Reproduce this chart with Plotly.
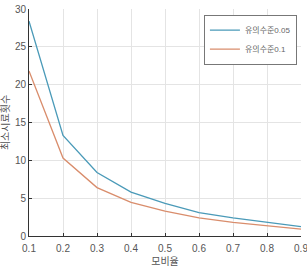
import plotly.graph_objects as go

p = [0.1, 0.2, 0.3, 0.4, 0.5, 0.6, 0.7, 0.8, 0.9]
s005 = [28.4, 13.3, 8.4, 5.8, 4.3, 3.1, 2.4, 1.8, 1.23]
s01 = [21.8, 10.3, 6.4, 4.45, 3.3, 2.4, 1.8, 1.36, 0.92]
names = ["유의수준0.05", "유의수준0.1"]
colors = ["#4a9ab8", "#d98d6c"]

fig = go.Figure()
for ys, nm, c in zip([s005, s01], names, colors):
    fig.add_trace(go.Scatter(x=p, y=ys, mode="lines", name=nm,
                             line=dict(color=c, width=1.3)))

font = "Liberation Sans, Noto Sans CJK KR"
fig.update_layout(
    width=307, height=269,
    margin=dict(l=29, r=6, t=9, b=33),
    paper_bgcolor="white", plot_bgcolor="white",
    font=dict(family=font, size=10, color="#555"),
    showlegend=True,
    legend=dict(x=0.985, y=0.975, xanchor="right", yanchor="top",
                bgcolor="white", bordercolor="#777", borderwidth=1,
                font=dict(size=8, color="#666"), itemwidth=30,
                tracegroupgap=0),
    xaxis=dict(range=[0.1, 0.9], tickvals=p,
               ticktext=["0.1", "0.2", "0.3", "0.4", "0.5", "0.6", "0.7", "0.8", "0.9"],
               showgrid=True, gridcolor="#e4e4e4", gridwidth=1,
               showline=True, linecolor="#333", linewidth=1,
               ticks="inside", ticklen=3, tickcolor="#333",
               zeroline=False, ticklabelstandoff=3, automargin=False,
               ticklabeloverflow="allow",
               title=dict(text="모비율", font=dict(size=10, color="#555"), standoff=4)),
    yaxis=dict(range=[0, 30], tickvals=[0, 5, 10, 15, 20, 25, 30],
               showgrid=True, gridcolor="#e4e4e4", gridwidth=1,
               showline=True, linecolor="#333", linewidth=1,
               ticks="inside", ticklen=3, tickcolor="#333",
               zeroline=False, automargin=False,
               title=dict(text="최소시료횟수", font=dict(size=10, color="#555"), standoff=4)),
)
fig.write_html("out.html")
